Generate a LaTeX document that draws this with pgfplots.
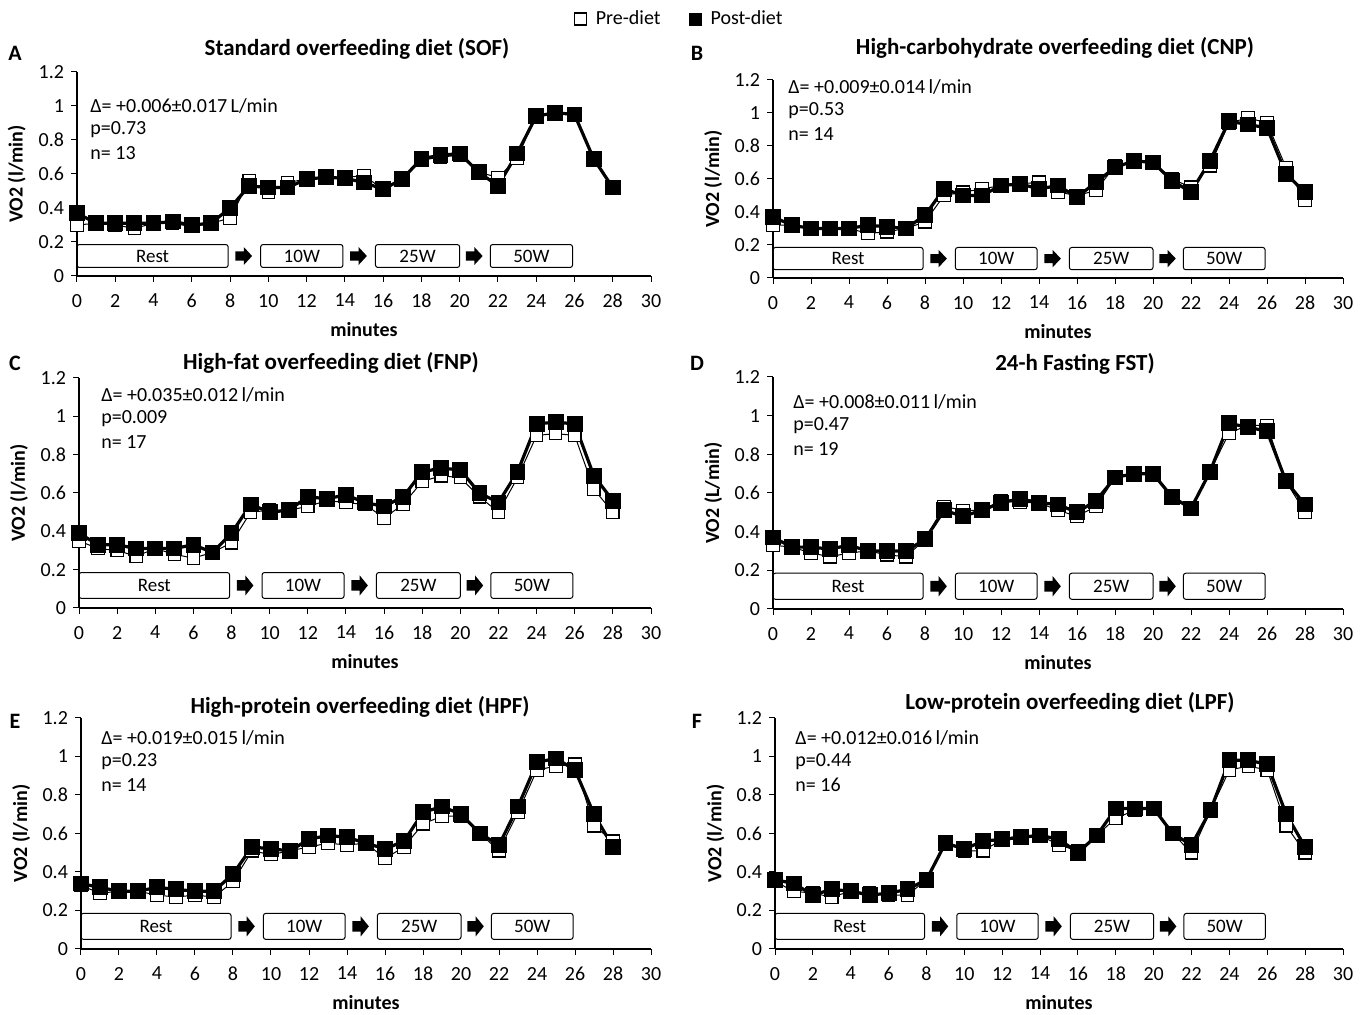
\documentclass[border=0pt]{standalone}
\usepackage{fontspec}
\setmainfont{Carlito}
\usepackage{pgfplots}
\pgfplotsset{compat=1.18}
\usepackage{pgfplotstable}

\pgfplotstableread{
x pre post
0 0.30 0.37
1 0.31 0.31
2 0.30 0.31
3 0.28 0.31
4 0.31 0.31
5 0.31 0.32
6 0.29 0.30
7 0.31 0.31
8 0.34 0.40
9 0.56 0.53
10 0.49 0.52
11 0.55 0.52
12 0.57 0.57
13 0.58 0.58
14 0.58 0.575
15 0.59 0.55
16 0.51 0.51
17 0.57 0.57
18 0.68 0.69
19 0.70 0.71
20 0.71 0.72
21 0.61 0.61
22 0.58 0.53
23 0.69 0.72
24 0.95 0.94
25 0.95 0.96
26 0.95 0.95
27 0.68 0.69
28 0.52 0.52
}\dataA

\pgfplotstableread{
x pre post
0 0.32 0.37
1 0.32 0.32
2 0.30 0.30
3 0.30 0.30
4 0.30 0.30
5 0.27 0.32
6 0.28 0.31
7 0.30 0.30
8 0.34 0.38
9 0.50 0.54
10 0.52 0.50
11 0.54 0.50
12 0.56 0.56
13 0.57 0.57
14 0.58 0.54
15 0.52 0.56
16 0.50 0.49
17 0.53 0.58
18 0.68 0.67
19 0.70 0.71
20 0.70 0.70
21 0.60 0.59
22 0.55 0.52
23 0.68 0.71
24 0.94 0.95
25 0.97 0.93
26 0.94 0.91
27 0.67 0.63
28 0.47 0.52
}\dataB

\pgfplotstableread{
x pre post
0 0.35 0.39
1 0.31 0.33
2 0.30 0.33
3 0.27 0.31
4 0.31 0.31
5 0.28 0.31
6 0.26 0.33
7 0.29 0.29
8 0.34 0.39
9 0.50 0.54
10 0.51 0.50
11 0.51 0.51
12 0.53 0.58
13 0.56 0.57
14 0.55 0.59
15 0.54 0.55
16 0.47 0.53
17 0.54 0.58
18 0.66 0.71
19 0.69 0.73
20 0.68 0.72
21 0.58 0.60
22 0.50 0.55
23 0.68 0.71
24 0.90 0.96
25 0.91 0.97
26 0.90 0.96
27 0.62 0.69
28 0.50 0.56
}\dataC

\pgfplotstableread{
x pre post
0 0.33 0.37
1 0.32 0.32
2 0.29 0.32
3 0.27 0.31
4 0.29 0.33
5 0.30 0.30
6 0.28 0.30
7 0.27 0.30
8 0.36 0.36
9 0.53 0.51
10 0.51 0.48
11 0.51 0.51
12 0.56 0.55
13 0.55 0.57
14 0.55 0.55
15 0.51 0.54
16 0.48 0.50
17 0.53 0.56
18 0.68 0.68
19 0.70 0.70
20 0.70 0.70
21 0.58 0.58
22 0.52 0.52
23 0.71 0.71
24 0.91 0.96
25 0.95 0.94
26 0.95 0.92
27 0.66 0.66
28 0.50 0.54
}\dataD

\pgfplotstableread{
x pre post
0 0.33 0.34
1 0.29 0.32
2 0.30 0.30
3 0.30 0.30
4 0.28 0.32
5 0.27 0.31
6 0.28 0.30
7 0.27 0.30
8 0.35 0.39
9 0.51 0.53
10 0.49 0.52
11 0.51 0.51
12 0.53 0.57
13 0.55 0.59
14 0.54 0.58
15 0.55 0.55
16 0.47 0.52
17 0.53 0.56
18 0.65 0.71
19 0.69 0.74
20 0.69 0.70
21 0.60 0.60
22 0.51 0.54
23 0.71 0.74
24 0.93 0.97
25 0.95 0.99
26 0.96 0.93
27 0.64 0.70
28 0.56 0.53
}\dataE

\pgfplotstableread{
x pre post
0 0.35 0.36
1 0.30 0.34
2 0.29 0.28
3 0.27 0.31
4 0.30 0.30
5 0.29 0.28
6 0.28 0.29
7 0.28 0.31
8 0.36 0.36
9 0.55 0.55
10 0.51 0.52
11 0.51 0.56
12 0.57 0.57
13 0.59 0.58
14 0.59 0.59
15 0.54 0.57
16 0.51 0.50
17 0.59 0.59
18 0.68 0.73
19 0.72 0.73
20 0.73 0.73
21 0.60 0.60
22 0.50 0.54
23 0.72 0.72
24 0.93 0.98
25 0.95 0.98
26 0.93 0.96
27 0.64 0.70
28 0.50 0.53
}\dataF

\pgfplotsset{
  panel/.style={
    scale only axis, axis lines*=left,
    xmin=0, xmax=30, ymin=0, ymax=1.2,
    xtick={0,2,4,6,8,10,12,14,16,18,20,22,24,26,28,30},
    ytick={0,0.2,0.4,0.6,0.8,1,1.2},
    tick align=outside, major tick length=3pt,
    tick style={black, line width=0.5pt},
    axis line style={black, line width=0.6pt},
    ticklabel style={font=\fontsize{10}{12}\selectfont},
    xticklabel style={yshift=-2.5pt},
    /pgf/number format/assume math mode=true,
    xlabel={minutes},
    xlabel style={font=\bfseries\fontsize{10}{12}\selectfont, at={(axis description cs:0.5,0)}, anchor=center, yshift=-27pt},
    ylabel style={font=\bfseries\fontsize{10}{12}\selectfont, at={(axis description cs:-0.105,0.5)}, anchor=center},
    title style={font=\bfseries\fontsize{11.5}{13}\selectfont, at={(axis description cs:0.5,1)}, anchor=center},
    clip=false,
  },
  pre/.style={black, line width=0.5pt, mark=square*, mark options={fill=white, draw=black, line width=0.6pt}, mark size=3.1pt},
  post/.style={black, line width=1.6pt, mark=square*, mark options={fill=black, line width=0.5pt}, mark size=3.7pt},
}

\newcommand{\stagebox}[3]{%
  \draw[rounded corners=1.2pt, line width=0.5pt] (axis cs:#1,0.05) rectangle (axis cs:#2,0.185);
  \node[font=\fontsize{9.5}{11}\selectfont] at (axis cs:{(#1+#2)/2},0.1175) {#3};
}
\newcommand{\stagearrow}[1]{%
  \fill[black] (axis cs:{#1-0.42},0.09) -- (axis cs:{#1+0.02},0.09) -- (axis cs:{#1+0.02},0.065)
    -- (axis cs:{#1+0.45},0.1175) -- (axis cs:{#1+0.02},0.17) -- (axis cs:{#1+0.02},0.145)
    -- (axis cs:{#1-0.42},0.145) -- cycle;
}
\newcommand{\stages}{%
  \stagebox{0}{7.9}{Rest}
  \stagearrow{8.7}
  \stagebox{9.6}{13.9}{10W}
  \stagearrow{14.7}
  \stagebox{15.6}{20}{25W}
  \stagearrow{20.75}
  \stagebox{21.6}{25.9}{50W}
}
\newcommand{\notes}[5]{%
  \node[anchor=west, inner xsep=0pt, font=\fontsize{10}{12}\selectfont] at (axis cs:#1,#2) {#3};
  \node[anchor=west, inner xsep=0pt, font=\fontsize{10}{12}\selectfont, yshift=-11.75pt] at (axis cs:#1,#2) {#4};
  \node[anchor=west, inner xsep=0pt, font=\fontsize{10}{12}\selectfont, yshift=-23.5pt] at (axis cs:#1,#2) {#5};
}

\begin{document}
\begin{tikzpicture}
\useasboundingbox (0,0) rectangle (683pt,507.5pt);

% Panel A
\begin{axis}[panel, at={(38.5pt,369.5pt)}, anchor=south west, width=287pt, height=102pt,
  title={Standard overfeeding diet (SOF)}, title style={yshift=5.5pt, xshift=-3.5pt},
  ylabel={VO2 (l/min)},
  legend style={at={(1.056,1.26)}, anchor=center, draw=none, fill=none, legend columns=2,
    font=\fontsize{10}{12}\selectfont, nodes={inner xsep=4.5pt},
    /tikz/every even column/.append style={column sep=10pt}}]
\stages
\addplot[pre, forget plot] table[x=x, y=pre] {\dataA};
\addplot[post, forget plot] table[x=x, y=post] {\dataA};
\notes{0.68}{1.0}{Δ= +0.006±0.017\,L/min}{p=0.73}{n= 13}
\addlegendimage{only marks, mark=square*, mark options={fill=white, draw=black, line width=0.6pt}, mark size=3pt}
\addlegendentry{Pre-diet}
\addlegendimage{only marks, mark=square*, mark options={fill=black}, mark size=3pt}
\addlegendentry{Post-diet}
\end{axis}

% Panel B
\begin{axis}[panel, at={(386.5pt,368.5pt)}, anchor=south west, width=285pt, height=99pt,
  title={High-carbohydrate overfeeding diet (CNP)}, title style={yshift=10pt, xshift=-1.5pt},
  ylabel={VO2 (l/min)}]
\stages
\addplot[pre] table[x=x, y=pre] {\dataB};
\addplot[post] table[x=x, y=post] {\dataB};
\notes{0.79}{1.157}{Δ= +0.009±0.014\,l/min}{p=0.53}{n= 14}
\end{axis}

% Panel C
\begin{axis}[panel, at={(39.5pt,203.5pt)}, anchor=south west, width=286pt, height=115pt,
  title={High-fat overfeeding diet (FNP)}, title style={yshift=1.5pt, xshift=-17pt},
  ylabel={VO2 (l/min)}]
\stages
\addplot[pre] table[x=x, y=pre] {\dataC};
\addplot[post] table[x=x, y=post] {\dataC};
\notes{1.15}{1.113}{Δ= +0.035±0.012\,l/min}{p=0.009}{n= 17}
\end{axis}

% Panel D
\begin{axis}[panel, at={(386.5pt,203pt)}, anchor=south west, width=285pt, height=116pt,
  title={24-h Fasting FST)}, title style={yshift=0.5pt, xshift=8.5pt},
  ylabel={VO2 (L/min)}]
\stages
\addplot[pre] table[x=x, y=pre] {\dataD};
\addplot[post] table[x=x, y=post] {\dataD};
\notes{1.05}{1.07}{Δ= +0.008±0.011\,l/min}{p=0.47}{n= 19}
\end{axis}

% Panel E
\begin{axis}[panel, at={(40.5pt,33pt)}, anchor=south west, width=285pt, height=115.5pt,
  title={High-protein overfeeding diet (HPF)}, title style={yshift=-0.5pt, xshift=-3pt},
  ylabel={VO2 (l/min)}]
\stages
\addplot[pre] table[x=x, y=pre] {\dataE};
\addplot[post] table[x=x, y=post] {\dataE};
\notes{1.05}{1.097}{Δ= +0.019±0.015\,l/min}{p=0.23}{n= 14}
\end{axis}

% Panel F
\begin{axis}[panel, at={(387.5pt,33pt)}, anchor=south west, width=284pt, height=115.5pt,
  title={Low-protein overfeeding diet (LPF)}, title style={yshift=1.5pt, xshift=5.5pt},
  ylabel={VO2 (l/min)}]
\stages
\addplot[pre] table[x=x, y=pre] {\dataF};
\addplot[post] table[x=x, y=post] {\dataF};
\notes{1.06}{1.097}{Δ= +0.012±0.016\,l/min}{p=0.44}{n= 16}
\end{axis}

\node[font=\bfseries\fontsize{11}{13}\selectfont] at (7.5pt,481pt) {A};
\node[font=\bfseries\fontsize{11}{13}\selectfont] at (348.5pt,481pt) {B};
\node[font=\bfseries\fontsize{11}{13}\selectfont] at (7.5pt,326pt) {C};
\node[font=\bfseries\fontsize{11}{13}\selectfont] at (348.5pt,326pt) {D};
\node[font=\bfseries\fontsize{11}{13}\selectfont] at (7.5pt,147pt) {E};
\node[font=\bfseries\fontsize{11}{13}\selectfont] at (348.5pt,147pt) {F};
\end{tikzpicture}
\end{document}
